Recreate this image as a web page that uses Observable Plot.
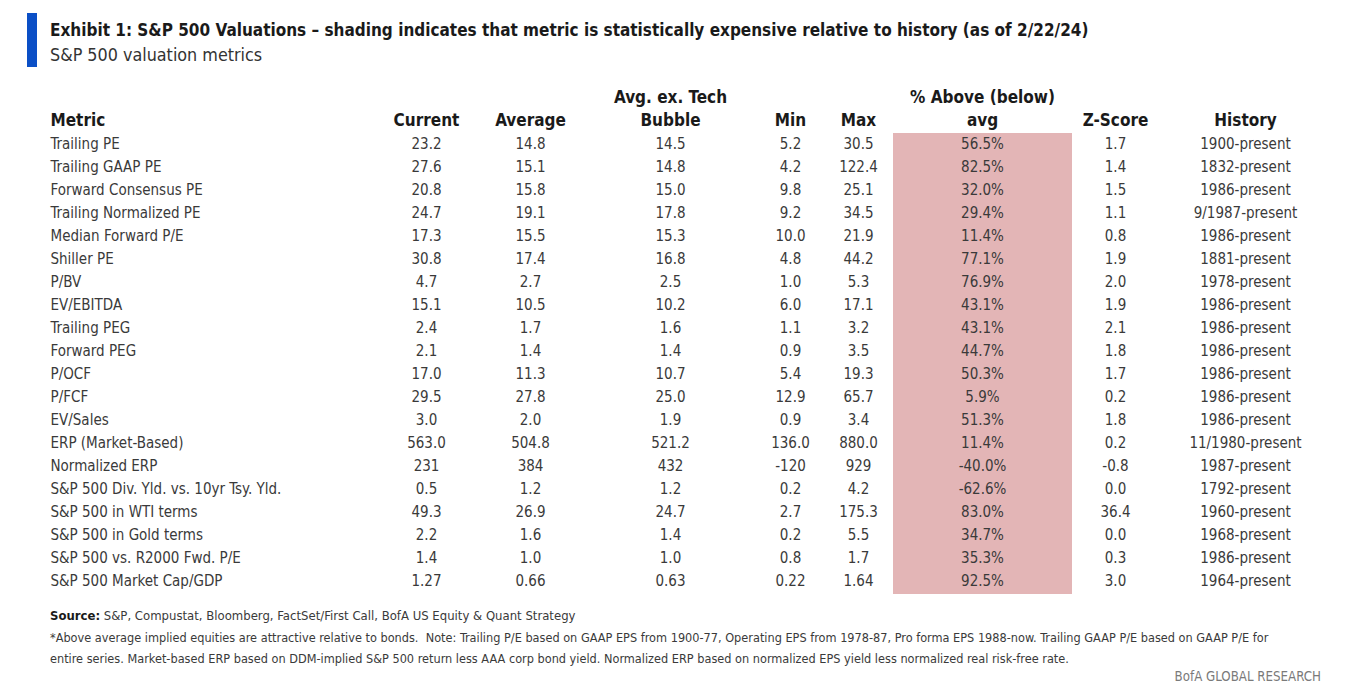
<!DOCTYPE html>
<html>
<head>
<meta charset="utf-8">
<script src="https://cdn.jsdelivr.net/npm/d3@7"></script>
<script src="https://cdn.jsdelivr.net/npm/@observablehq/plot@0.6"></script>
<style>
  body { margin: 0; background: #fff; }
  #wrap { position: relative; width: 1367px; height: 691px; overflow: hidden; background: #fff;
    font-family: "DejaVu Sans Condensed", "Liberation Sans Narrow", sans-serif; color: #333; }
  #bar { position: absolute; left: 27px; top: 13px; width: 10px; height: 54px; background: #0b4fc6; }
  #title { position: absolute; left: 50px; top: 19px; font-size: 17px; line-height: 22px; font-weight: bold; color: #1a1a1a; white-space: nowrap; }
  #subtitle { position: absolute; left: 50px; top: 44px; font-size: 17.8px; line-height: 22px; color: #333; white-space: nowrap; }
  #chart { position: absolute; left: 0; top: 80px; }
  #foot { position: absolute; left: 50px; top: 605px; font-size: 12.6px; line-height: 21.5px; color: #3a3a3a; white-space: nowrap; }
  #foot .src { font-size: 13px; }
  #foot b { color: #1a1a1a; }
  #brand { position: absolute; right: 46px; top: 667px; font-size: 13.2px; line-height: 20px; color: #7a7a7a; white-space: nowrap; }
</style>
</head>
<body>
<div id="wrap">
  <div id="bar"></div>
  <div id="title">Exhibit 1: S&amp;P 500 Valuations – shading indicates that metric is statistically expensive relative to history (as of 2/22/24)</div>
  <div id="subtitle">S&amp;P 500 valuation metrics</div>
  <div id="chart"></div>
  <div id="foot">
    <div class="src"><b>Source:</b> S&amp;P, Compustat, Bloomberg, FactSet/First Call, BofA US Equity &amp; Quant Strategy</div>
    <div>*Above average implied equities are attractive relative to bonds.&nbsp; Note: Trailing P/E based on GAAP EPS from 1900-77, Operating EPS from 1978-87, Pro forma EPS 1988-now. Trailing GAAP P/E based on GAAP P/E for</div>
    <div>entire series. Market-based ERP based on DDM-implied S&amp;P 500 return less AAA corp bond yield. Normalized ERP based on normalized EPS yield less normalized real risk-free rate.</div>
  </div>
  <div id="brand">BofA GLOBAL RESEARCH</div>
</div>
<script>
// ---------- data ----------
const metrics = [
  "Trailing PE", "Trailing GAAP PE", "Forward Consensus PE", "Trailing Normalized PE",
  "Median Forward P/E", "Shiller PE", "P/BV", "EV/EBITDA", "Trailing PEG", "Forward PEG",
  "P/OCF", "P/FCF", "EV/Sales", "ERP (Market-Based)", "Normalized ERP",
  "S&P 500 Div. Yld. vs. 10yr Tsy. Yld.", "S&P 500 in WTI terms", "S&P 500 in Gold terms",
  "S&P 500 vs. R2000 Fwd. P/E", "S&P 500 Market Cap/GDP"
];
const current    = [23.2, 27.6, 20.8, 24.7, 17.3, 30.8, 4.7, 15.1, 2.4, 2.1, 17.0, 29.5, 3.0, 563.0, 231, 0.5, 49.3, 2.2, 1.4, 1.27];
const average    = [14.8, 15.1, 15.8, 19.1, 15.5, 17.4, 2.7, 10.5, 1.7, 1.4, 11.3, 27.8, 2.0, 504.8, 384, 1.2, 26.9, 1.6, 1.0, 0.66];
const avgExTech  = [14.5, 14.8, 15.0, 17.8, 15.3, 16.8, 2.5, 10.2, 1.6, 1.4, 10.7, 25.0, 1.9, 521.2, 432, 1.2, 24.7, 1.4, 1.0, 0.63];
const minVals    = [5.2, 4.2, 9.8, 9.2, 10.0, 4.8, 1.0, 6.0, 1.1, 0.9, 5.4, 12.9, 0.9, 136.0, -120, 0.2, 2.7, 0.2, 0.8, 0.22];
const maxVals    = [30.5, 122.4, 25.1, 34.5, 21.9, 44.2, 5.3, 17.1, 3.2, 3.5, 19.3, 65.7, 3.4, 880.0, 929, 4.2, 175.3, 5.5, 1.7, 1.64];
const pctAbove   = [56.5, 82.5, 32.0, 29.4, 11.4, 77.1, 76.9, 43.1, 43.1, 44.7, 50.3, 5.9, 51.3, 11.4, -40.0, -62.6, 83.0, 34.7, 35.3, 92.5];
const zScore     = [1.7, 1.4, 1.5, 1.1, 0.8, 1.9, 2.0, 1.9, 2.1, 1.8, 1.7, 0.2, 1.8, 0.2, -0.8, 0.0, 36.4, 0.0, 0.3, 3.0];
const history    = ["1900-present", "1832-present", "1986-present", "9/1987-present", "1986-present",
  "1881-present", "1978-present", "1986-present", "1986-present", "1986-present", "1986-present",
  "1986-present", "1986-present", "11/1980-present", "1987-present", "1792-present", "1960-present",
  "1968-present", "1986-present", "1964-present"];
const decimals   = [1, 1, 1, 1, 1, 1, 1, 1, 1, 1, 1, 1, 1, 1, 0, 1, 1, 1, 1, 2];
const expensive  = [true, true, true, true, true, true, true, true, true, true, true, true, true, true, true, true, true, true, true, true];

// ---------- layout ----------
const FONT = '"DejaVu Sans Condensed", "Liberation Sans Narrow", sans-serif';
const colX = { metric: 50, current: 426, average: 530, avgEx: 670, min: 790, max: 858, pct: 982, z: 1115, history: 1245 };
const shade = { left: 893, right: 1072, color: "#e3b5b6" };

const headers = [
  { row: "h2", col: "metric", text: "Metric", anchor: "start" },
  { row: "h2", col: "current", text: "Current" },
  { row: "h2", col: "average", text: "Average" },
  { row: "h1", col: "avgEx", text: "Avg. ex. Tech" },
  { row: "h2", col: "avgEx", text: "Bubble" },
  { row: "h2", col: "min", text: "Min" },
  { row: "h2", col: "max", text: "Max" },
  { row: "h1", col: "pct", text: "% Above (below)" },
  { row: "h2", col: "pct", text: "avg" },
  { row: "h2", col: "z", text: "Z-Score" },
  { row: "h2", col: "history", text: "History" }
];

const fmt = (v, i) => v.toFixed(decimals[i]);
const cells = [];
metrics.forEach((m, i) => {
  cells.push({ row: m, col: "metric", text: m, anchor: "start" });
  cells.push({ row: m, col: "current", text: fmt(current[i], i) });
  cells.push({ row: m, col: "average", text: fmt(average[i], i) });
  cells.push({ row: m, col: "avgEx", text: fmt(avgExTech[i], i) });
  cells.push({ row: m, col: "min", text: fmt(minVals[i], i) });
  cells.push({ row: m, col: "max", text: fmt(maxVals[i], i) });
  cells.push({ row: m, col: "pct", text: pctAbove[i].toFixed(1) + "%" });
  cells.push({ row: m, col: "z", text: zScore[i].toFixed(1) });
  cells.push({ row: m, col: "history", text: history[i] });
});

const shadedRows = metrics.filter((m, i) => expensive[i]);
const isStart = d => d.anchor === "start";

const dataStyle = { x: d => colX[d.col], y: "row", text: "text", fontSize: 15, fill: "#3a3a3a", dy: -1 };
const headStyle = { x: d => colX[d.col], y: "row", text: "text", fontSize: 17, fontWeight: "bold", fill: "#1a1a1a", dy: -1 };

const chart = Plot.plot({
  width: 1367,
  height: 525,
  margin: 0,
  style: { fontFamily: FONT, background: "transparent", overflow: "visible" },
  x: { type: "linear", domain: [0, 1367], range: [0, 1367], axis: null },
  y: { type: "band", domain: ["h1", "h2", ...metrics], range: [1.8, 517.7], padding: 0, axis: null },
  marks: [
    Plot.barX(shadedRows, { y: d => d, x1: () => shade.left, x2: () => shade.right, fill: shade.color,
      insetTop: -0.5, insetBottom: -0.5, shapeRendering: "crispEdges" }),
    Plot.text(cells.filter(isStart), { ...dataStyle, textAnchor: "start" }),
    Plot.text(cells.filter(d => !isStart(d)), { ...dataStyle, textAnchor: "middle" }),
    Plot.text(headers.filter(isStart), { ...headStyle, textAnchor: "start" }),
    Plot.text(headers.filter(d => !isStart(d)), { ...headStyle, textAnchor: "middle" })
  ]
});
document.getElementById("chart").appendChild(chart);
</script>
</body>
</html>
